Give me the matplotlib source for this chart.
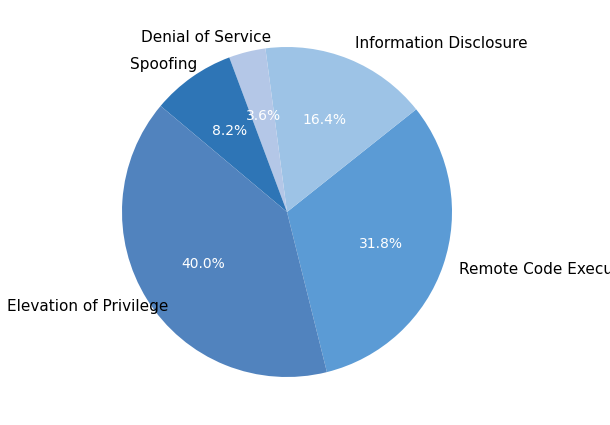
import matplotlib
matplotlib.use("Agg")
import matplotlib.pyplot as plt

categories = ["Remote Code Execution", "Information Disclosure", "Denial of Service",
              "Spoofing", "Elevation of Privilege"]
values = [31.8, 16.4, 3.6, 8.2, 40.0]
colors = ["#5b9bd5", "#9dc3e6", "#b4c7e7", "#2e75b6", "#5183be"]
# label anchor (left edge, vertical centre) in pixels from top-left
label_px = [(459, 270), (355, 44), (141, 37), (130, 65), (7, 307)]

fig = plt.figure(figsize=(6.1, 4.25), dpi=100)
r = 165
cx, cy = 287, 212
ax = fig.add_axes([(cx - r) / 610, (425 - cy - r) / 425, 2 * r / 610, 2 * r / 425])
wedges, texts, autotexts = ax.pie(values, labels=categories, colors=colors,
                                  startangle=-76, autopct="%1.1f%%",
                                  pctdistance=0.6, labeldistance=1.12,
                                  textprops={"fontsize": 11})
for t, (px, py) in zip(texts, label_px):
    t.set_position(((px - cx) / r, (cy - py) / r))
    t.set_ha("left")
    t.set_va("center")
    t.set_clip_on(False)
for t in autotexts:
    t.set_color("white")
    t.set_fontsize(10)
ax.set_xlim(-1, 1)
ax.set_ylim(-1, 1)
ax.set_aspect("equal")
fig.savefig("out.png", dpi=100)
